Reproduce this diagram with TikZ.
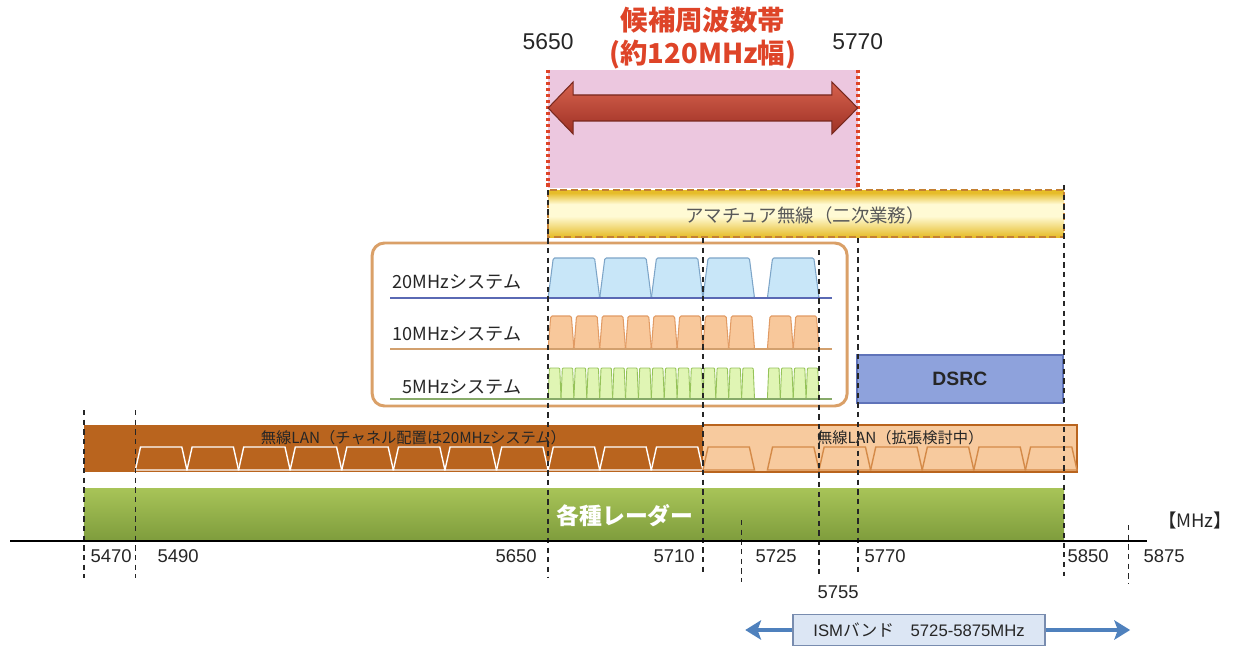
\documentclass[tikz,border=0pt]{standalone}
\usepackage{fontspec}
\setmainfont{Liberation Sans}
\newfontfamily\jp{Noto Sans CJK JP}
\usepackage{tikz}
\usetikzlibrary{arrows.meta, positioning}

\definecolor{candred}{RGB}{222,68,40}
\definecolor{pinkband}{RGB}{236,199,223}
\definecolor{arrowtop}{RGB}{214,98,78}
\definecolor{arrowbot}{RGB}{158,48,36}
\definecolor{arrowedge}{RGB}{120,40,30}
\definecolor{yelgold}{RGB}{230,188,40}
\definecolor{yelpale}{RGB}{255,250,212}
\definecolor{yeledge}{RGB}{196,128,50}
\definecolor{boxedge}{RGB}{218,160,104}
\definecolor{ch20fill}{RGB}{200,230,248}
\definecolor{ch20edge}{RGB}{125,165,200}
\definecolor{ch20base}{RGB}{90,105,180}
\definecolor{ch10fill}{RGB}{248,200,155}
\definecolor{ch10edge}{RGB}{225,155,100}
\definecolor{ch10base}{RGB}{210,160,110}
\definecolor{ch5fill}{RGB}{224,245,180}
\definecolor{ch5edge}{RGB}{150,195,90}
\definecolor{ch5base}{RGB}{135,170,105}
\definecolor{dsrcfill}{RGB}{142,162,220}
\definecolor{dsrcedge}{RGB}{95,115,185}
\definecolor{landark}{RGB}{185,100,30}
\definecolor{lanlight}{RGB}{247,202,158}
\definecolor{lanblock}{RGB}{212,138,72}
\definecolor{radtop}{RGB}{168,196,88}
\definecolor{radbot}{RGB}{126,156,60}
\definecolor{ismfill}{RGB}{220,230,244}
\definecolor{ismedge}{RGB}{120,140,175}
\definecolor{ismarrow}{RGB}{79,129,189}

\pgfdeclareverticalshading{amashade}{100bp}{color(0bp)=(yelgold); color(25bp)=(yelgold);
  color(47bp)=(yelpale); color(60bp)=(yelpale); color(72bp)=(yelgold); color(100bp)=(yelgold)}

% one channel mask: start, width, top, bottom, style
\newcommand{\chan}[5]{%
  \filldraw[#5] (#1,#4) -- ({#1+0.1*#2},#3) -- ({#1+0.9*#2},#3) -- ({#1+#2},#4) -- cycle;}

\begin{document}
\begin{tikzpicture}[
    x=0.0516cm, y=-0.02cm,
    vline/.style={black!85, line width=0.9pt, dash pattern=on 3pt off 2.5pt},
    reddot/.style={candred, line width=2.2pt, dash pattern=on 1.8pt off 1.6pt},
    title/.style={font=\jp\bfseries\fontsize{15.6}{18.7}\selectfont, text=candred, align=center},
    toplab/.style={font=\fontsize{13}{15}\selectfont, text=black!85},
    freq/.style={font=\fontsize{10.5}{12}\selectfont, text=black!85},
    sysname/.style={font=\jp\fontsize{10.3}{12}\selectfont, anchor=east, text=black!85},
    bandlab/.style={font=\jp\fontsize{10.5}{12}\selectfont, text=black!65},
    lanlab/.style={font=\jp\fontsize{8.7}{10}\selectfont, text=black!85},
    ch20/.style={fill=ch20fill, draw=ch20edge, line width=0.6pt, rounded corners=0.8pt},
    ch10/.style={fill=ch10fill, draw=ch10edge, line width=0.6pt, rounded corners=0.8pt},
    ch5/.style={fill=ch5fill, draw=ch5edge, line width=0.5pt, rounded corners=0.5pt},
    lanw/.style={fill=landark, draw=white, line width=0.8pt},
    lanx/.style={fill=lanlight, draw=lanblock, line width=0.8pt},
    dsrcbox/.style={rectangle, fill=dsrcfill, draw=dsrcedge, line width=0.8pt, minimum width=4.12cm, minimum height=0.96cm, inner sep=0pt, font=\bfseries\fontsize{11}{13}\selectfont, text=black!85},
    ismbox/.style={rectangle, fill=ismfill, draw=ismedge, line width=0.8pt, minimum width=5.04cm, minimum height=0.62cm, inner sep=0pt, font=\fontsize{9.5}{11}\selectfont, text=black!85},
    ismarr/.style={-{Stealth[length=9pt, width=11pt, inset=2pt]}, ismarrow, line width=2.2pt}
]
\useasboundingbox (5437.6,0) rectangle (5917.1,648);

\fill[pinkband] (5650,70) rectangle (5770,188);
\draw[reddot] (5650,70) -- (5650,188);
\draw[reddot] (5770,70) -- (5770,188);
\shadedraw[draw=arrowedge, line width=0.6pt, top color=arrowtop, bottom color=arrowbot]
    (5650,108) -- (5659.7,82) -- (5659.7,95) -- (5760,95) -- (5760,82) -- (5770,108)
    -- (5760,134) -- (5760,121) -- (5659.7,121) -- (5659.7,134) -- cycle;
\node[title] (cand) at (5710,38) {候補周波数帯\\(約120MHz幅)};
\node[toplab] (top5650) at (5650,42) {5650};
\node[toplab] (top5770) at (5770,42) {5770};

\shadedraw[draw=yeledge, line width=1pt, dash pattern=on 4pt off 2pt, shading=amashade] (5650,190) rectangle (5850,237);
\node[bandlab] (ama) at (5749.6,215) {アマチュア無線（二次業務）};

\draw[boxedge, line width=1.7pt, rounded corners=7pt, fill=white] (5581.8,243) rectangle (5765.9,406);
\foreach \a in {5650,5670,5690,5710,5735} {\chan{\a}{20}{258}{298}{ch20}}
\foreach \a in {5650,5660,...,5720,5735,5745} {\chan{\a}{10}{316}{349}{ch10}}
\foreach \a in {5650,5655,...,5725,5735,5740,5745,5750} {\chan{\a}{5}{368}{399}{ch5}}
\draw[ch20base, line width=1.2pt] (5588.8,298) -- (5760,298);
\draw[ch10base, line width=1.2pt] (5588.8,349) -- (5760,349);
\draw[ch5base, line width=1.2pt] (5588.8,399) -- (5760,399);
\node[sysname] (s20) at (5642,282) {20MHzシステム};
\node[sysname] (s10) at (5642,334) {10MHzシステム};
\node[sysname] (s5) at (5642,387) {5MHzシステム};

\node[dsrcbox] (dsrc) at (5809.6,379) {DSRC};

\fill[landark] (5470,425) rectangle (5710,472);
\filldraw[fill=lanlight, draw=landark, line width=0.6pt] (5710,425) rectangle (5855,472);
\foreach \a in {5490,5510,...,5690} {\chan{\a}{20}{447}{470}{lanw}}
\chan{5710}{20}{447}{470}{lanx}
\foreach \a in {5735,5755,...,5835} {\chan{\a}{20}{447}{470}{lanx}}
\node[lanlab] (lan) at (5597.8,438) {無線LAN（チャネル配置は20MHzシステム）};
\node[lanlab] (lanext) at (5786.5,438) {無線LAN（拡張検討中）};

\shade[top color=radtop, bottom color=radbot] (5470,488) rectangle (5850,541);
\node[font=\jp\bfseries\fontsize{13}{15}\selectfont, text=white] (radar) at (5679.8,516) {各種レーダー};

\foreach \f/\ya/\yb in {5470/410/578, 5490/410/578, 5650/190/578, 5710/238/576, 5725/520/582,
                       5755/250/576, 5770/238/576, 5850/185/576, 5875/525/584}
    \draw[vline] (\f,\ya) -- (\f,\yb);

\draw[line width=1.4pt] (5441.5,541) -- (5882,541);
\node[freq] (f5470) at (5480.6,556) {5470};
\node[freq] (f5490) at (5506.6,556) {5490};
\node[freq] (f5650) at (5637.6,556) {5650};
\node[freq] (f5710) at (5698.8,556) {5710};
\node[freq] (f5725) at (5738.4,556) {5725};
\node[freq] (f5770) at (5780.6,556) {5770};
\node[freq] (f5850) at (5859.3,556) {5850};
\node[freq] (f5875) at (5888.8,556) {5875};
\node[freq] (f5755) at (5762.4,592) {5755};
\node[font=\jp\fontsize{10.5}{12}\selectfont, text=black!85] (unit) at (5900.8,520) {【MHz】};

\node[ismbox] (ism) at (5793.8,630) {ISM{\jp バンド}\hspace{1em}5725-5875MHz};
\coordinate (ismL) at (5726.4,630);
\coordinate (ismR) at (5875.6,630);
\draw[ismarr] (ism.west) -- (ismL);
\draw[ismarr] (ism.east) -- (ismR);
\end{tikzpicture}
\end{document}
